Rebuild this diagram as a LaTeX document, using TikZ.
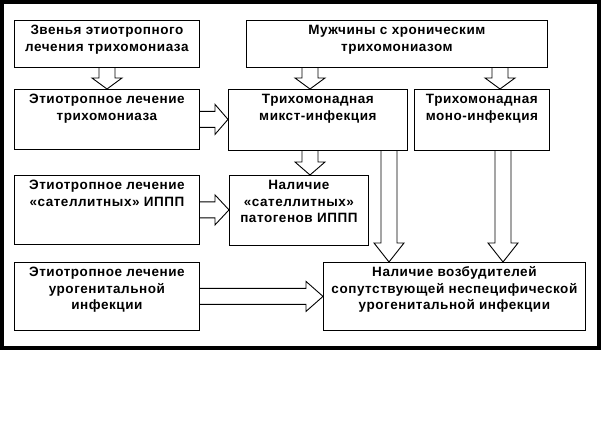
\documentclass[tikz,border=0pt]{standalone}
\usepackage{fontspec}
\setmainfont{Liberation Sans}[LetterSpace=4]
\usetikzlibrary{calc}

% text of a box: width, height, lines (top aligned)
\newcommand{\boxtext}[3]{\parbox[c][#2pt][t]{#1pt}{\centering\rule{0pt}{14.5pt}#3}}

% hollow block arrow going down: x, head length, from, to
\newcommand{\vblock}[4]{%
  \draw[blockarrow] let \p1=(#3.south), \p2=(#4.north) in
    (#1pt-8pt,\y1) -- (#1pt-8pt,\y2+#2pt) -- (#1pt-15pt,\y2+#2pt) -- (#1pt,\y2)
    -- (#1pt+15pt,\y2+#2pt) -- (#1pt+8pt,\y2+#2pt) -- (#1pt+8pt,\y1);}

% hollow block arrow going right: head length, from, to
\newcommand{\hblock}[3]{%
  \draw[blockarrow] let \p1=(#2.east), \p2=(#3.west) in
    (\x1,\y1+8pt) -- (\x2-#1pt,\y1+8pt) -- (\x2-#1pt,\y1+15pt) -- (\x2,\y1)
    -- (\x2-#1pt,\y1-15pt) -- (\x2-#1pt,\y1-8pt) -- (\x1,\y1-8pt);}

\begin{document}
\begin{tikzpicture}[x=1pt, y=-1pt]
   \tikzstyle{box}=[draw, line width=0.8pt, inner sep=0pt, anchor=north west, font=\fontsize{13.5}{16.5}\selectfont\bfseries]
   \tikzstyle{blockarrow}=[line width=0.9pt]

\useasboundingbox (0,0) rectangle (602,435);
\draw[line width=4pt] (2,2) rectangle (599,348);

\node[box] (links) at (14,20) {\boxtext{185}{47}{Звенья этиотропного\\лечения трихомониаза}};
\node[box] (men) at (246,20) {\boxtext{301}{47}{Мужчины с хроническим\\трихомониазом}};
\node[box] (etiotrich) at (14,89) {\boxtext{185}{60}{Этиотропное лечение\\трихомониаза}};
\node[box] (mixed) at (228,89) {\boxtext{179}{61}{Трихомонадная\\микст-инфекция}};
\node[box] (mono) at (414,89) {\boxtext{135}{61}{Трихомонадная\\моно-инфекция}};
\node[box] (etiosat) at (14,175) {\boxtext{185}{69}{Этиотропное лечение\\«сателлитных» ИППП}};
\node[box] (satpath) at (229,175) {\boxtext{139}{70}{Наличие\\«сателлитных»\\патогенов ИППП}};
\node[box] (etiouro) at (14,262) {\boxtext{185}{68}{Этиотропное лечение\\урогенитальной\\инфекции}};
\node[box] (agents) at (323,262) {\boxtext{262}{68}{Наличие возбудителей\\сопутствующей неспецифической\\урогенитальной инфекции}};

\vblock{107}{11}{links}{etiotrich}
\vblock{310}{11}{men}{mixed}
\vblock{500}{11}{men}{mono}
\hblock{13}{etiotrich}{mixed}
\vblock{310}{13}{mixed}{satpath}
\hblock{14}{etiosat}{satpath}
\vblock{389}{19}{mixed}{agents}
\vblock{503}{19}{mono}{agents}
\hblock{17}{etiouro}{agents}

\end{tikzpicture}
\end{document}
